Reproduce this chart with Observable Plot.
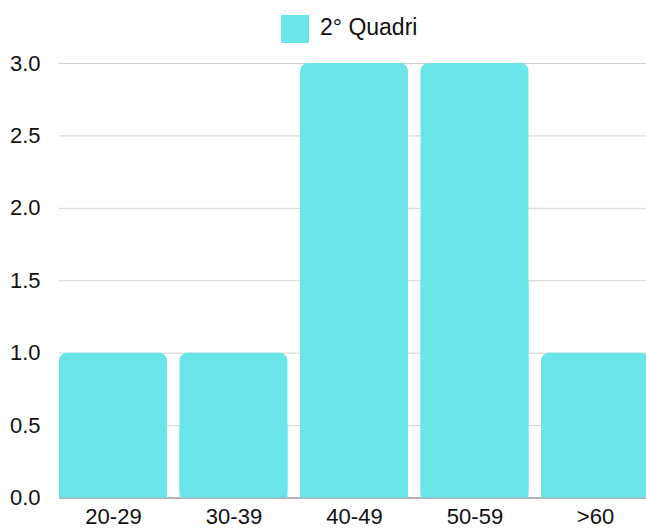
<!DOCTYPE html>
<html>
<head>
<meta charset="utf-8">
<script src="https://cdn.jsdelivr.net/npm/d3@7"></script>
<script src="https://cdn.jsdelivr.net/npm/@observablehq/plot@0.6"></script>
<style>
  html, body { margin: 0; padding: 0; background: #fff; overflow: hidden; }
  #wrap { position: relative; width: 646px; height: 529px; font-family: "Liberation Sans", Arial, sans-serif; }
  #legend { position: relative; height: 52px; }
  #legend .sw { position: absolute; left: 281px; top: 15px; width: 28px; height: 28px; }
  #legend .tx { position: absolute; left: 320px; top: 12px; font-size: 23px; line-height: 30px; color: #111; white-space: nowrap; }
</style>
</head>
<body>
<div id="wrap">
  <div id="legend"><div class="sw"></div><div class="tx"></div></div>
  <div id="chart"></div>
</div>
<script>
const seriesName = "2° Quadri";
const categories = ["20-29", "30-39", "40-49", "50-59", ">60"];
const values = [1, 1, 3, 3, 1];
const yTicks = [0, 0.5, 1, 1.5, 2, 2.5, 3];
const barColor = "#6ae6e8";

const data = categories.map((c, i) => ({category: c, value: values[i]}));

document.querySelector("#legend .sw").style.background = barColor;
document.querySelector("#legend .tx").textContent = seriesName;

const chart = Plot.plot({
  width: 646,
  height: 477,
  marginTop: 11,
  marginBottom: 31.5,
  marginLeft: 59,
  marginRight: 0,
  style: {fontFamily: "'Liberation Sans', Arial, sans-serif", fontSize: "22px", color: "#111", background: "#fff"},
  x: {type: "band", domain: categories, range: [59, 649], paddingInner: 0.104, paddingOuter: 0, align: 0, round: false},
  y: {domain: [0, 3]},
  marks: [
    Plot.ruleY(yTicks.filter(t => t > 0), {stroke: "#d2d2d2", strokeWidth: 1}),
    Plot.ruleY([0], {stroke: "#666", strokeWidth: 1}),
    Plot.barY(data, {x: "category", y: "value", fill: barColor, rx: 8, inset: 0}),
    Plot.barY(data, {x: "category", y1: 0, y2: d => d.value / 2, fill: barColor, inset: 0}),
    Plot.axisY({ticks: yTicks, tickFormat: d3.format(".1f"), tickSize: 0, tickPadding: 19, fontSize: 22, label: null}),
    Plot.axisX({tickSize: 0, tickPadding: 10, fontSize: 22, label: null})
  ]
});
document.getElementById("chart").appendChild(chart);
</script>
</body>
</html>
